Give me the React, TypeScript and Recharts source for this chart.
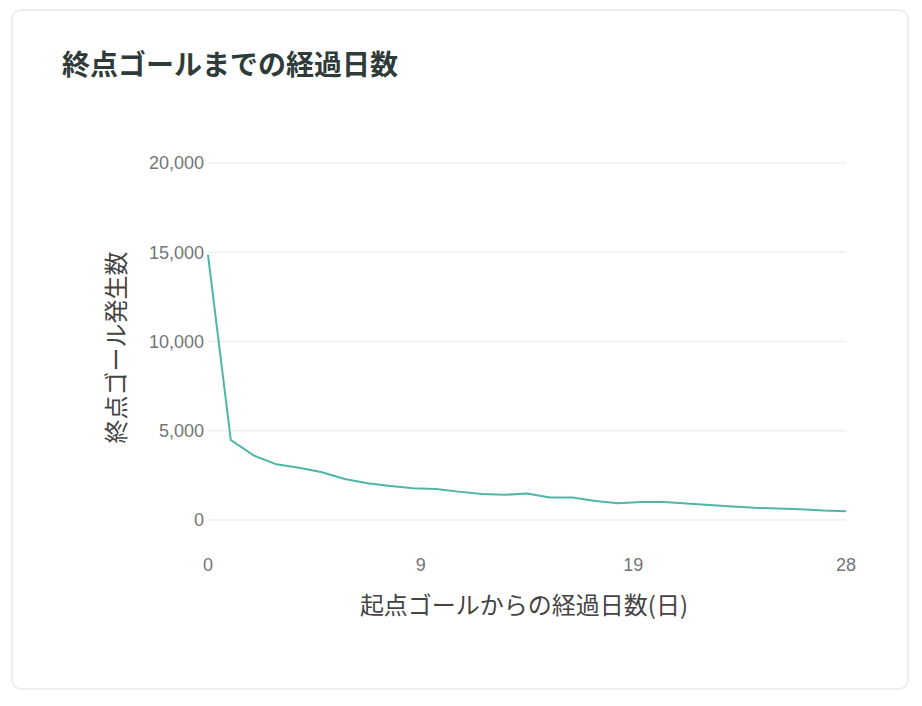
import { LineChart, Line, XAxis, YAxis, CartesianGrid } from 'recharts';

const TITLE = '終点ゴールまでの経過日数';
const X_LABEL = '起点ゴールからの経過日数(日)';
const Y_LABEL = '終点ゴール発生数';

const days = [0, 1, 2, 3, 4, 5, 6, 7, 8, 9, 10, 11, 12, 13, 14, 15, 16, 17, 18, 19, 20, 21, 22, 23, 24, 25, 26, 27, 28];
const counts = [
  14850, 4480, 3620, 3120, 2930, 2670, 2300, 2060, 1910, 1780, 1740, 1590, 1460, 1410, 1480,
  1260, 1260, 1060, 940, 1010, 1010, 920, 840, 750, 680, 640, 600, 530, 490,
];
// ticks sit at thirds of the range, labels are rounded (9, 19)
const xTicks = [0, 28 / 3, 56 / 3, 28];
const yTicks = [0, 5000, 10000, 15000, 20000];

const chartData = days.map((d, i) => ({ day: d, count: counts[i] }));

const LINE_COLOR = '#4db6a8';
const TICK_FONT = '"Liberation Sans", Arial, "Noto Sans CJK JP", sans-serif';
const JP_FONT = '"Noto Sans CJK JP", sans-serif';

function XAxisTitle({ viewBox }: any) {
  const { x, y, width } = viewBox;
  return (
    <text x={x + width / 2 - 3} y={y + 94} textAnchor="middle" fontSize={24} fill="#444" fontFamily={JP_FONT}>
      {X_LABEL}
    </text>
  );
}

function YAxisTitle({ viewBox }: any) {
  const { y, height } = viewBox;
  const cx = 101;
  const cy = y + height / 2 + 6;
  return (
    <text
      x={cx}
      y={cy}
      transform={`rotate(-90, ${cx}, ${cy})`}
      textAnchor="middle"
      dominantBaseline="central"
      fontSize={24}
      fill="#444"
      fontFamily={JP_FONT}
    >
      {Y_LABEL}
    </text>
  );
}

export default function App() {
  return (
    <div
      style={{
        position: 'absolute',
        left: 11,
        top: 9,
        width: 898,
        height: 681,
        boxSizing: 'border-box',
        border: '2px solid #efefef',
        borderRadius: 10,
        background: '#fff',
      }}
    >
      <div
        style={{
          position: 'absolute',
          left: 49,
          top: 33,
          fontFamily: JP_FONT,
          fontWeight: 700,
          fontSize: 28,
          color: '#2f3b38',
          lineHeight: '38px',
        }}
      >
        {TITLE}
      </div>
      <div style={{ position: 'absolute', left: 0, top: 0 }}>
        <LineChart width={894} height={677} data={chartData} margin={{ top: 152, right: 61, left: 0, bottom: 68 }}>
          <CartesianGrid vertical={false} stroke="#efefef" strokeWidth={1.5} />
          <XAxis
            dataKey="day"
            type="number"
            domain={[0, 28]}
            ticks={xTicks}
            tickFormatter={(v) => String(Math.round(Number(v)))}
            axisLine={false}
            tickLine={false}
            tickSize={0}
            tickMargin={38}
            height={100}
            tick={{ fontSize: 18, fill: '#757575', fontFamily: TICK_FONT }}
            label={<XAxisTitle />}
          />
          <YAxis
            domain={[0, 20000]}
            ticks={yTicks}
            width={195}
            axisLine={false}
            tickLine={false}
            tickSize={0}
            tickMargin={4}
            tickFormatter={(v) => Number(v).toLocaleString('en-US')}
            tick={{ fontSize: 18, fill: '#757575', fontFamily: TICK_FONT }}
            label={<YAxisTitle />}
          />
          <Line
            type="linear"
            dataKey="count"
            stroke={LINE_COLOR}
            strokeWidth={2}
            dot={false}
            isAnimationActive={false}
          />
        </LineChart>
      </div>
    </div>
  );
}
